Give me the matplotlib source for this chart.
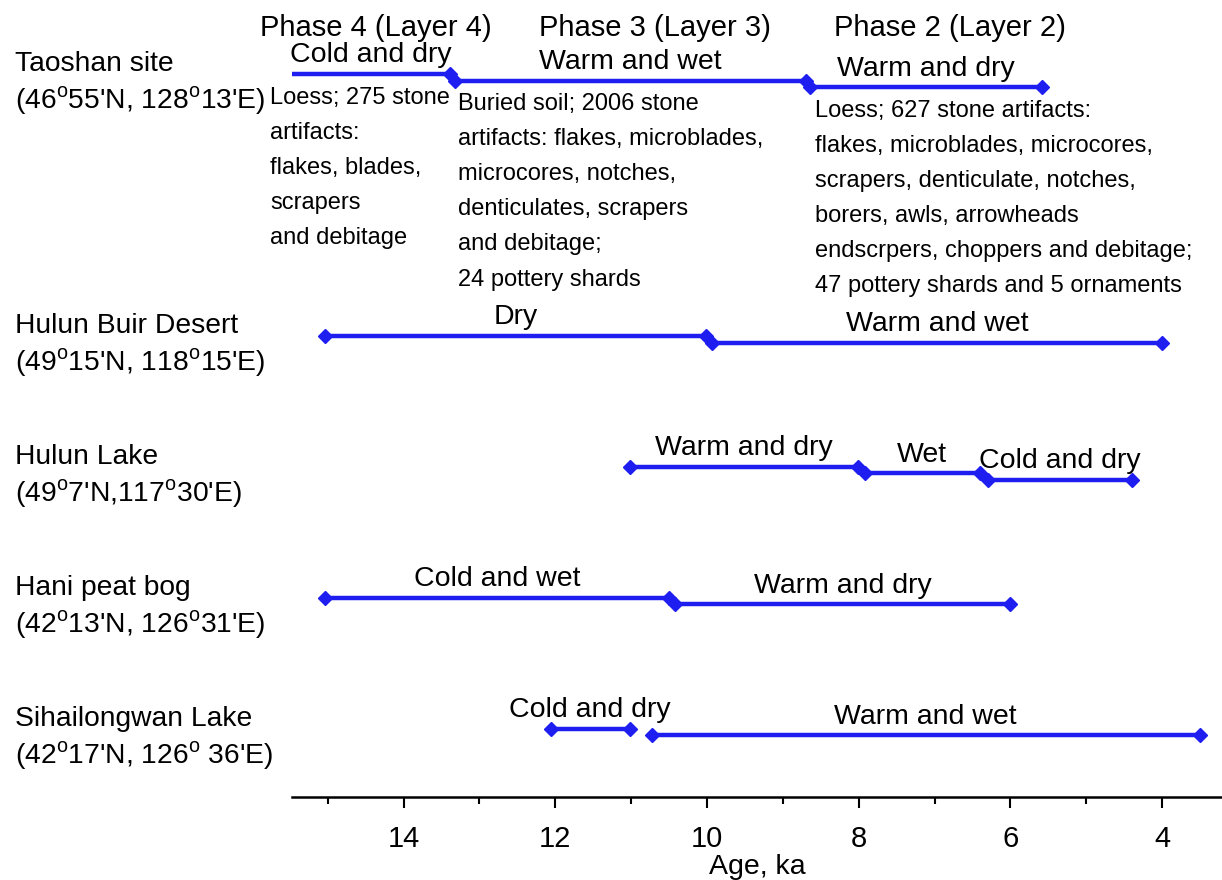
import matplotlib
matplotlib.use('Agg')
import matplotlib.pyplot as plt
import matplotlib.transforms as mtransforms
from matplotlib.ticker import MultipleLocator

plt.rcParams['font.family'] = ['Liberation Sans', 'DejaVu Sans']
plt.rcParams['mathtext.fontset'] = 'custom'
plt.rcParams['mathtext.rm'] = 'Liberation Sans'

# site names and row positions (row units, 0 = top)
sites = ['Taoshan site\n(46$^{\\rm o}$55\'N, 128$^{\\rm o}$13\'E)',
         'Hulun Buir Desert\n(49$^{\\rm o}$15\'N, 118$^{\\rm o}$15\'E)',
         'Hulun Lake\n(49$^{\\rm o}$7\'N,117$^{\\rm o}$30\'E)',
         'Hani peat bog\n(42$^{\\rm o}$13\'N, 126$^{\\rm o}$31\'E)',
         'Sihailongwan Lake\n(42$^{\\rm o}$17\'N, 126$^{\\rm o}$ 36\'E)']
site_rows = [0, 2, 3, 4, 5]

# climate intervals (ka): site index, start, end, label
seg_site = [0, 0, 0, 1, 1, 2, 2, 2, 3, 3, 4, 4]
seg_start = [15.47, 13.32, 8.64, 15.04, 9.93, 11.02, 7.92, 6.29, 15.04, 10.42, 12.06, 10.73]
seg_end = [13.39, 8.69, 5.58, 10.01, 4.0, 8.01, 6.4, 4.4, 10.5, 6.0, 11.02, 3.5]
seg_step = [0, 1, 2, 0, 1, 0, 1, 2, 0, 1, 0, 1]
seg_label = ['Cold and dry', 'Warm and wet', 'Warm and dry',
             'Dry', 'Warm and wet',
             'Warm and dry', 'Wet', 'Cold and dry',
             'Cold and wet', 'Warm and dry',
             'Cold and dry', 'Warm and wet']
seg_left_marker = [False, True, True, True, True, True, True, True, True, True, True, True]

# Taoshan phases
phase_names = ['Phase 4 (Layer 4)', 'Phase 3 (Layer 3)', 'Phase 2 (Layer 2)']
phase_age = [14.37, 10.69, 6.8]
phase_notes = [
    'Loess; 275 stone\nartifacts:\nflakes, blades,\nscrapers\nand debitage',
    'Buried soil; 2006 stone\nartifacts: flakes, microblades,\nmicrocores, notches,\ndenticulates, scrapers\nand debitage;\n24 pottery shards',
    'Loess; 627 stone artifacts:\nflakes, microblades, microcores,\nscrapers, denticulate, notches,\nborers, awls, arrowheads\nendscrpers, choppers and debitage;\n47 pottery shards and 5 ornaments',
]
note_age = [15.76, 13.28, 8.58]

blue = '#1e1ef0'
stagger = 0.05

fig = plt.figure(figsize=(12.22, 8.8), dpi=100)
ax = fig.add_axes([292 / 1222, 83 / 880, 930 / 1222, 797 / 880])

for i in range(len(seg_site)):
    y = site_rows[seg_site[i]] + seg_step[i] * stagger
    ax.plot([seg_start[i], seg_end[i]], [y, y], color=blue, lw=3.2,
            solid_capstyle='butt', clip_on=False)
    mx = [seg_start[i], seg_end[i]] if seg_left_marker[i] else [seg_end[i]]
    ax.plot(mx, [y] * len(mx), ls='none', marker='D', ms=7, color=blue,
            clip_on=False)
    mid = (seg_start[i] + seg_end[i]) / 2
    ax.annotate(seg_label[i], (mid, y), xytext=(0, 4), textcoords='offset points',
                ha='center', va='bottom', fontsize=20.5)

for i in range(3):
    ax.text(phase_age[i], -0.35, phase_names[i], ha='center', va='center',
            fontsize=21)
    y = site_rows[0] + i * stagger
    ax.annotate(phase_notes[i], (note_age[i], y), xytext=(0, -9),
                textcoords='offset points', ha='left', va='top',
                fontsize=17, linespacing=1.77, annotation_clip=False)

trans = mtransforms.blended_transform_factory(fig.transFigure, ax.transData)
for i in range(len(sites)):
    ax.text(15 / 1222, site_rows[i] + 0.075, sites[i], transform=trans,
            ha='left', va='center', fontsize=20.3, linespacing=1.3)

ax.set_xlim(15.47, 3.21)
ax.set_ylim(5.52, -0.565)
ax.xaxis.set_major_locator(MultipleLocator(2))
ax.xaxis.set_minor_locator(MultipleLocator(1))
ax.tick_params(axis='x', which='major', direction='out', length=8, width=1.5,
               labelsize=21, pad=12)
ax.tick_params(axis='x', which='minor', direction='out', length=5, width=1.5)
ax.set_yticks([])
for s in ['top', 'left', 'right']:
    ax.spines[s].set_visible(False)
ax.spines['bottom'].set_linewidth(1.8)
ax.set_xlabel('Age, ka', fontsize=20.5, labelpad=1)

plt.savefig('out.png', dpi=100)
